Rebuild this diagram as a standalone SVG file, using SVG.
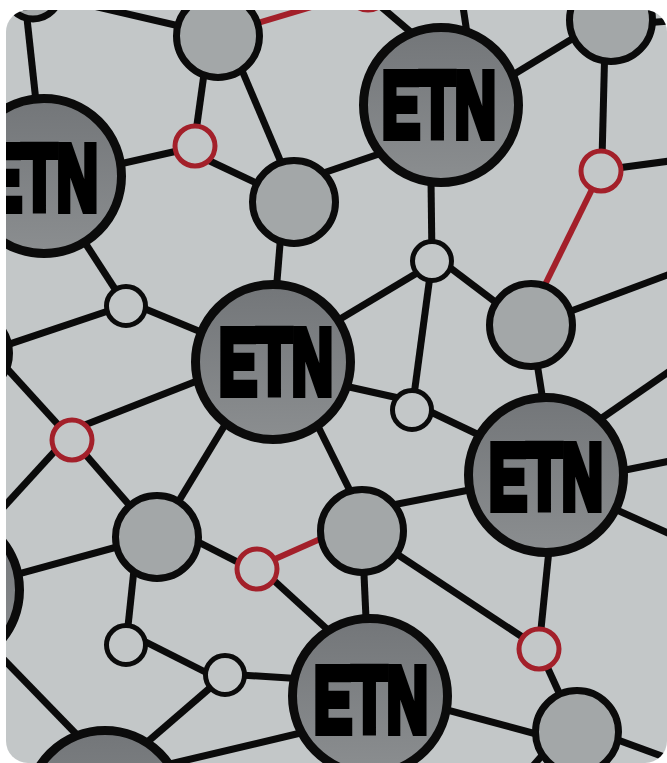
<svg xmlns="http://www.w3.org/2000/svg" width="667" height="763" viewBox="0 0 667 763">
<style>
.e{stroke:#0b0b0b;stroke-width:7;stroke-linecap:butt;fill:none}
.r{stroke:#a3202a;stroke-width:6;fill:none}
.big{fill:url(#g);stroke:#0b0b0b;stroke-width:9}
.med{fill:#a3a7a8;stroke:#0b0b0b;stroke-width:7}
.sm{fill:#c3c7c8;stroke:#0b0b0b;stroke-width:5}
.ring{fill:#c3c7c8;stroke:#a3202a;stroke-width:5}
.t{font-family:"Liberation Sans",Arial,sans-serif;font-weight:bold;font-size:92px;fill:#000;stroke:#000;stroke-width:8;stroke-linejoin:miter}
</style>
<defs>
<linearGradient id="g" x1="0" y1="0" x2="0" y2="1">
<stop offset="0" stop-color="#737679"/>
<stop offset="1" stop-color="#8b8e90"/>
</linearGradient>
<clipPath id="panel"><rect x="6" y="10" width="661" height="753" rx="22"/></clipPath>
</defs>
<rect width="667" height="763" fill="#ffffff"/>
<g clip-path="url(#panel)">
<rect x="6" y="10" width="661" height="753" fill="#c3c7c8"/>
<g id="connectors">
<line class="e" x1="33" y1="-8" x2="218" y2="35"/>
<line class="e" x1="25" y1="0" x2="38" y2="120"/>
<line class="r" x1="218" y1="35" x2="368" y2="-10"/>
<line class="e" x1="209" y1="38" x2="194" y2="146"/>
<line class="e" x1="227" y1="35" x2="297" y2="200"/>
<line class="e" x1="195" y1="147" x2="80" y2="173"/>
<line class="e" x1="195" y1="154" x2="294" y2="201"/>
<line class="e" x1="282" y1="220" x2="273" y2="330"/>
<line class="e" x1="294" y1="183" x2="420" y2="140"/>
<line class="e" x1="372" y1="-1" x2="420" y2="40"/>
<line class="e" x1="462" y1="0" x2="468" y2="40"/>
<line class="e" x1="480" y1="95" x2="595" y2="25"/>
<line class="e" x1="630" y1="24" x2="670" y2="21"/>
<line class="e" x1="605" y1="40" x2="602" y2="160"/>
<line class="e" x1="610" y1="169" x2="670" y2="161"/>
<line class="r" x1="601" y1="171" x2="535" y2="305"/>
<line class="e" x1="431" y1="180" x2="432" y2="260"/>
<line class="e" x1="80" y1="235" x2="126" y2="306"/>
<line class="e" x1="126" y1="301" x2="230" y2="344"/>
<line class="e" x1="126" y1="305" x2="-20" y2="354"/>
<line class="e" x1="-10" y1="350" x2="72" y2="440"/>
<line class="e" x1="72" y1="430" x2="230" y2="368"/>
<line class="e" x1="65" y1="440" x2="0" y2="511"/>
<line class="e" x1="72" y1="439" x2="157" y2="537"/>
<line class="e" x1="240" y1="400" x2="157" y2="537"/>
<line class="e" x1="300" y1="343" x2="432" y2="264"/>
<line class="e" x1="300" y1="376" x2="412" y2="401"/>
<line class="e" x1="432" y1="261" x2="412" y2="410"/>
<line class="e" x1="432" y1="254" x2="531" y2="329"/>
<line class="e" x1="531" y1="326" x2="670" y2="274"/>
<line class="e" x1="531" y1="325" x2="546" y2="420"/>
<line class="e" x1="560" y1="447" x2="670" y2="371"/>
<line class="e" x1="546" y1="486" x2="670" y2="461"/>
<line class="e" x1="412" y1="403" x2="500" y2="445"/>
<line class="e" x1="295" y1="380" x2="368" y2="527"/>
<line class="e" x1="362" y1="511" x2="500" y2="484"/>
<line class="r" x1="257" y1="567" x2="345" y2="528"/>
<line class="e" x1="157" y1="521" x2="257" y2="572"/>
<line class="e" x1="257" y1="565" x2="340" y2="641"/>
<line class="e" x1="0" y1="579" x2="157" y2="536"/>
<line class="e" x1="135" y1="560" x2="126" y2="645"/>
<line class="e" x1="126" y1="632" x2="225" y2="682"/>
<line class="e" x1="225" y1="674" x2="320" y2="680"/>
<line class="e" x1="225" y1="675" x2="130" y2="757"/>
<line class="e" x1="-20" y1="635" x2="80" y2="738"/>
<line class="e" x1="330" y1="726" x2="170" y2="764"/>
<line class="e" x1="362" y1="531" x2="367" y2="640"/>
<line class="e" x1="362" y1="531" x2="539" y2="648"/>
<line class="e" x1="552" y1="520" x2="539" y2="649"/>
<line class="e" x1="539" y1="649" x2="577" y2="732"/>
<line class="e" x1="546" y1="478" x2="670" y2="534"/>
<line class="e" x1="369" y1="689" x2="577" y2="745"/>
<line class="e" x1="577" y1="725" x2="670" y2="759"/>
<line class="e" x1="560" y1="735" x2="525" y2="775"/>
</g>
<g id="m0"><circle class="med" cx="33" cy="-8" r="27"/></g>
<g id="r6"><circle class="ring" cx="368" cy="-10" r="20"/></g>
<g id="m1"><circle class="med" cx="218" cy="36" r="41.5"/></g>
<g id="m7"><circle class="med" cx="611" cy="20" r="41.5"/></g>
<g id="m2"><circle class="med" cx="294" cy="202" r="41.5"/></g>
<g id="m3"><circle class="med" cx="531" cy="325" r="41.5"/></g>
<g id="m4"><circle class="med" cx="157" cy="537" r="41.5"/></g>
<g id="m5"><circle class="med" cx="362" cy="531" r="41.5"/></g>
<g id="m6"><circle class="med" cx="577" cy="732" r="41.5"/></g>
<g id="m8"><circle class="med" cx="-32" cy="353" r="41.5"/></g>
<g id="s1"><circle class="sm" cx="126" cy="306" r="19.5"/></g>
<g id="s2"><circle class="sm" cx="432" cy="261" r="19.5"/></g>
<g id="s3"><circle class="sm" cx="412" cy="410" r="19.5"/></g>
<g id="s4"><circle class="sm" cx="126" cy="645" r="19.5"/></g>
<g id="s5"><circle class="sm" cx="225" cy="675" r="19.5"/></g>
<g id="r1"><circle class="ring" cx="195" cy="146" r="20"/></g>
<g id="r2"><circle class="ring" cx="601" cy="171" r="20"/></g>
<g id="r3"><circle class="ring" cx="72" cy="440" r="20"/></g>
<g id="r4"><circle class="ring" cx="257" cy="569" r="20"/></g>
<g id="r5"><circle class="ring" cx="539" cy="649" r="20"/></g>
<g id="e7"><circle class="big" cx="-58" cy="590" r="77.5"/></g>
<g id="e6"><circle class="big" cx="105" cy="808" r="77.5"/></g>
<g id="e1"><circle class="big" cx="441" cy="105" r="77.5"/><text class="t" x="382" y="137" textLength="114" lengthAdjust="spacingAndGlyphs">ETN</text></g>
<g id="e2"><circle class="big" cx="44" cy="176" r="77.5"/><text class="t" x="-16" y="210" textLength="114" lengthAdjust="spacingAndGlyphs">ETN</text></g>
<g id="e3"><circle class="big" cx="273" cy="362" r="77.5"/><text class="t" x="219" y="394" textLength="114" lengthAdjust="spacingAndGlyphs">ETN</text></g>
<g id="e4"><circle class="big" cx="546" cy="475" r="77.5"/><text class="t" x="489" y="509" textLength="114" lengthAdjust="spacingAndGlyphs">ETN</text></g>
<g id="e5"><circle class="big" cx="370" cy="696" r="77.5"/><text class="t" x="314" y="732" textLength="114" lengthAdjust="spacingAndGlyphs">ETN</text></g>
</g>
</svg>
